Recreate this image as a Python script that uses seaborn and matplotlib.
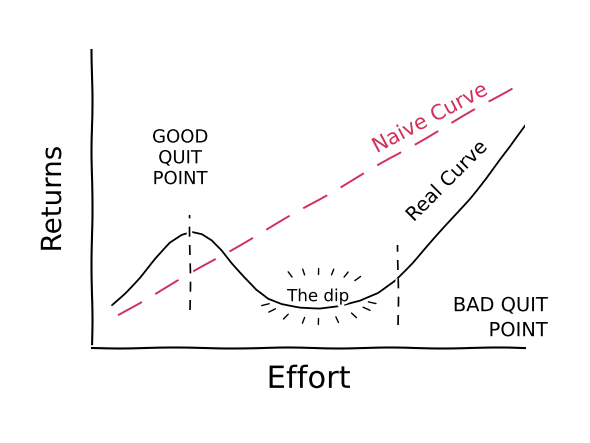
import numpy as np
import seaborn as sns
import pandas as pd
from matplotlib import pyplot as plt

# hand-read points of the sketch (effort, returns)
real_effort = [112, 125, 140, 155, 170, 182, 192, 202, 212, 222, 232, 244, 256, 268, 282, 300, 320,
               340, 360, 378, 395, 412, 430, 450, 470, 490, 510, 528]
real_returns = [138, 150, 166, 184, 200, 208, 211, 209, 203, 193, 180, 166, 153, 144, 139, 136, 135,
                137, 142, 150, 163, 180, 200, 222, 245, 270, 296, 322]
naive_effort = [118, 540]
naive_returns = [128, 371]
dip_angles = [200, 215, 235, 255, 270, 290, 310, 330, 345, 120, 105, 90, 75, 60, 45]

sns.set_style("white")
plt.xkcd(scale=0.5, length=120, randomness=2)
plt.rcParams["font.family"] = ["DejaVu Sans"]
plt.rcParams["text.color"] = "black"
plt.rcParams["axes.labelcolor"] = "black"

fig = plt.figure(figsize=(5.9, 4.43), dpi=100)
ax = fig.add_axes([0.156, 0.214, 0.734, 0.673])

real = pd.DataFrame({"effort": real_effort, "returns": real_returns})
naive = pd.DataFrame({"effort": naive_effort, "returns": naive_returns})
sns.lineplot(data=real, x="effort", y="returns", color="black", lw=1.3, ax=ax)
sns.lineplot(data=naive, x="effort", y="returns", color="#d0305a", lw=1.4, ax=ax,
             dashes=False, linestyle=(0, (14, 8)))

ax.set_xlim(92, 525)
ax.set_ylim(95, 393)
ax.set_xticks([])
ax.set_yticks([])
for s in ["top", "right"]:
    ax.spines[s].set_visible(False)
for s in ["left", "bottom"]:
    ax.spines[s].set_color("black")
ax.set_xlabel("Effort", fontsize=22, labelpad=12)
ax.set_ylabel("Returns", fontsize=20, labelpad=18)

# quit point markers
ax.plot([190, 190], [133, 228], color="black", lw=1.2, linestyle=(0, (6, 5)))
ax.plot([398, 398], [118, 198], color="black", lw=1.2, linestyle=(0, (6, 5)))

ax.text(180, 255, "GOOD\nQUIT\nPOINT", ha="center", va="bottom", fontsize=13, linespacing=1.2)
ax.text(548, 103, "BAD QUIT\n      POINT", ha="right", va="bottom", fontsize=14, linespacing=1.4,
        clip_on=False)
ax.text(430, 325, "Naive Curve", color="#d0305a", rotation=28, ha="center", va="center", fontsize=15)
ax.text(447, 262, "Real Curve", rotation=45, ha="center", va="center", fontsize=14)
ax.text(318, 147, "The dip", ha="center", va="center", fontsize=12)

# radiating ticks around the dip
for a in dip_angles:
    r = np.deg2rad(a)
    cx, cy = 318, 147
    ax.plot([cx + 52 * np.cos(r), cx + 60 * np.cos(r)],
            [cy + 22 * np.sin(r), cy + 28 * np.sin(r)], color="black", lw=1)

fig.savefig("out.png", dpi=100)
